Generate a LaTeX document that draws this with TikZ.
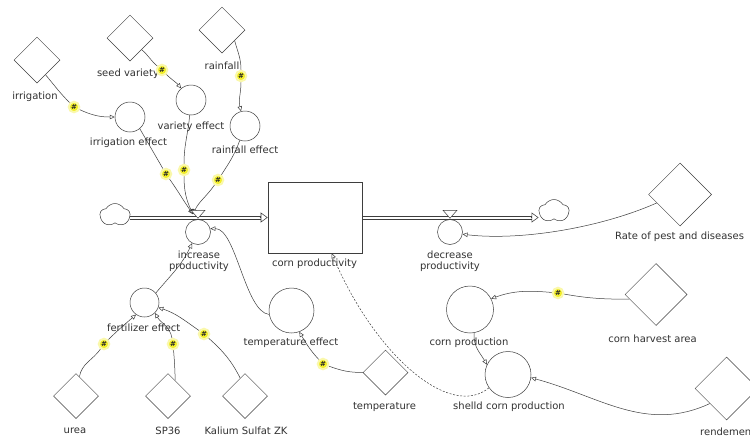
\documentclass[tikz,border=0pt]{standalone}
\usepackage{fontspec}
\setmainfont{DejaVu Sans}
\usetikzlibrary{shapes.geometric,shapes.symbols,arrows.meta,calc}
\definecolor{linec}{RGB}{62,62,62}
\definecolor{textc}{RGB}{50,50,50}
\definecolor{hashc}{RGB}{242,238,40}
\definecolor{glowc}{RGB}{250,248,170}
\pgfdeclarelayer{back}
\pgfdeclarelayer{bg}
\pgfsetlayers{back,bg,main}
\begin{document}
\begin{tikzpicture}[x=1pt,y=1pt,
  const/.style={diamond, draw=linec, line width=0.5pt, fill=white, inner sep=0pt, minimum width=#1, minimum height=#1},
  const/.default=45pt,
  auxc/.style={circle, draw=linec, line width=0.5pt, fill=white, inner sep=0pt, minimum size=#1},
  auxc/.default=30pt,
  stockbox/.style={rectangle, draw=linec, line width=0.6pt, fill=white, inner sep=0pt, minimum width=94pt, minimum height=71pt},
  cloudnode/.style={cloud, cloud puffs=5, cloud puff arc=120, aspect=1.3, draw=linec, line width=0.5pt, fill=white, inner sep=0pt, minimum width=30pt, minimum height=23pt},
  lbl/.style={font=\fontsize{10}{11}\selectfont, text=textc, inner sep=0pt, align=center},
  hashmk/.style={circle, fill=hashc, draw=glowc, line width=2pt, inner sep=0pt, minimum size=10.5pt, font=\fontsize{7}{7}\selectfont\bfseries, text=black!85},
  lnk/.style={draw=linec, line width=0.5pt},
  lnka/.style={lnk, -{Triangle[open, length=5pt, width=4.5pt]}},
  pipeline/.style={draw=linec, line width=0.6pt},
  pipetip/.style={draw=linec, line width=0.55pt, -{Triangle[open, length=7pt, width=10pt]}},
  valve/.style={draw=linec, line width=0.5pt}
]
\useasboundingbox (0,0) rectangle (750,-437);
\begin{pgfonlayer}{back}
\fill[white] (0,0) rectangle (750,-437);
\end{pgfonlayer}

% constants
\node[const=46pt] (irrig) at (37,-60) {};
\node[const=46pt] (seedv) at (130,-38) {};
\node[const=46pt] (rainf) at (222,-30) {};
\node[const] (urea) at (76,-396) {};
\node[const] (sp36) at (168,-396) {};
\node[const] (kal) at (245,-396) {};
\node[const] (temp) at (385.5,-372.5) {};
\node[const=63pt] (rate) at (680,-194.5) {};
\node[const=62pt] (harv) at (656,-294.5) {};
\node[const=63pt] (rend) at (726.5,-388.5) {};

% auxiliaries
\node[auxc] (irreff) at (130,-117) {};
\node[auxc] (vareff) at (191,-100) {};
\node[auxc] (rainfeff) at (245,-126) {};
\node[auxc=29pt] (fert) at (144.5,-302.5) {};
\node[auxc=45pt] (tempeff) at (291.5,-310.5) {};
\node[auxc=47pt] (cprod) at (470,-309.5) {};
\node[auxc=46pt] (shelld) at (508,-374.5) {};
\node[auxc=25pt] (incr) at (198,-232) {};
\node[auxc=25pt] (decr) at (450,-232) {};

% stock and clouds
\node[stockbox] (stock) at (315,-217.5) {};
\node[cloudnode] (cloudL) at (115,-215) {};
\node[cloudnode] (cloudR) at (554,-211) {};

% flow pipes: two parallel thin lines each
\coordinate (pL) at (cloudL.east |- stock.west);
\coordinate (pR) at (stock.east -| cloudR.west);
\draw[pipeline] ($(pL)+(0,1.6)$) -- ($(stock.west)+(-7,1.6)$);
\draw[pipeline] ($(pL)+(0,-1.6)$) -- ($(stock.west)+(-7,-1.6)$);
\draw[pipetip] ($(stock.west)+(-8,0)$) -- (stock.west);
\draw[pipeline] ($(stock.east)+(0,1.6)$) -- ($(pR)+(-7,1.6)$);
\draw[pipeline] ($(stock.east)+(0,-1.6)$) -- ($(pR)+(-7,-1.6)$);
\draw[pipetip] ($(pR)+(-8,0)$) -- (pR);

% valves
\draw[valve, fill=white] ($(incr.north)+(-7,9)$) -- ($(incr.north)+(7,9)$) -- ($(incr.north)+(0,1)$) -- cycle;
\draw[valve, fill=white] ($(decr.north)+(-7,9)$) -- ($(decr.north)+(7,9)$) -- ($(decr.north)+(0,1)$) -- cycle;
\coordinate (vin) at ($(incr.north)+(-5,5)$);

% labels
\node[lbl] (irrigT) at (35,-97) {irrigation};
\node[lbl] (seedvT) at (128,-74) {seed variety};
\node[lbl] (rainfT) at (222,-66) {rainfall};
\node[lbl] (irreffT) at (128.5,-142.7) {irrigation effect};
\node[lbl] (vareffT) at (191,-126.7) {variety effect};
\node[lbl] (rainfeffT) at (245,-150) {rainfall effect};
\node[lbl] (incrT) at (199,-261.5) {increase\\productivity};
\node[lbl] (stockT) at (314.5,-263.3) {corn productivity};
\node[lbl] (decrT) at (450,-261) {decrease\\productivity};
\node[lbl] (rateT) at (679.5,-236.7) {Rate of pest and diseases};
\node[lbl] (fertT) at (143.7,-327.7) {fertilizer effect};
\node[lbl] (ureaT) at (75,-431) {urea};
\node[lbl] (sp36T) at (168,-431) {SP36};
\node[lbl] (kalT) at (246,-431) {Kalium Sulfat ZK};
\node[lbl] (tempeffT) at (291,-343) {temperature effect};
\node[lbl] (tempT) at (384.5,-407) {temperature};
\node[lbl] (cprodT) at (469,-343) {corn production};
\node[lbl] (harvT) at (652.5,-339) {corn harvest area};
\node[lbl] (shelldT) at (509,-406.7) {shelld corn production};
\node[lbl, anchor=west] (rendT) at (700,-431.7) {rendemen};

% hash markers
\node[hashmk] (m1) at (74,-107) {\#};
\node[hashmk] (m2) at (162,-70) {\#};
\node[hashmk] (m3) at (241,-76) {\#};
\node[hashmk] (m4) at (166,-174) {\#};
\node[hashmk] (m5) at (184,-170) {\#};
\node[hashmk] (m6) at (218,-180) {\#};
\node[hashmk] (m9) at (104,-344) {\#};
\node[hashmk] (m10) at (173,-344) {\#};
\node[hashmk] (m11) at (204,-334) {\#};
\node[hashmk] (m12) at (323,-364) {\#};
\node[hashmk] (m14) at (558,-293) {\#};

\begin{pgfonlayer}{bg}
% links
\draw[lnk] (irrig.-60) to[out=-50,in=135] (m1);
\draw[lnka] (m1) to[out=-25,in=180] (irreff);
\draw[lnk] (seedv.-45) to[out=-40,in=140] (m2);
\draw[lnka] (m2) to[out=-45,in=130] (vareff);
\draw[lnk] (rainf.-40) to[out=-75,in=90] (m3);
\draw[lnka] (m3) to[out=-90,in=105] (rainfeff);
\draw[lnk] (irreff.-50) to[out=-60,in=120] (m4);
\draw[lnka] (m4) to[out=-55,in=125] (vin);
\draw[lnk] (vareff.-95) to[out=-95,in=90] (m5);
\draw[lnka] (m5) to[out=-90,in=115] (vin);
\draw[lnk] (rainfeff.-110) to[out=-110,in=57] (m6);
\draw[lnka] (m6) to[out=-125,in=65] (vin);
\draw[lnka] (fert.40) to[out=50,in=-115] (incr.-118);
\draw[lnka] (tempeff.190) .. controls (245,-312) and (236,-228) .. (incr.15);
\draw[lnk] (urea.80) to[out=80,in=-125] (m9);
\draw[lnka] (m9) to[out=45,in=-139] (fert.235);
\draw[lnk] (sp36.65) to[out=92,in=-85] (m10);
\draw[lnka] (m10) to[out=100,in=-60] (fert.-45);
\draw[lnk] (kal.105) to[out=117,in=-42] (m11);
\draw[lnka] (m11) to[out=145,in=-18] (fert.-20);
\draw[lnk] (temp.180) to[out=180,in=-20] (m12);
\draw[lnka] (m12) to[out=133,in=-59] (tempeff.-70);
\draw[lnka] (rate.200) .. controls (600,-228) and (520,-241) .. (decr.-10);
\draw[lnk] (harv.190) to[out=180,in=-10] (m14);
\draw[lnka] (m14) to[out=175,in=20] (cprod.27);
\draw[lnka] (cprod.-80) to[out=-95,in=120] (shelld.155);
\draw[lnka] (rend.222) to[out=205,in=-15] (shelld.-8);
\draw[lnka, dash pattern=on 2pt off 1.6pt] (shelld.215) .. controls (450,-420) and (375,-355) .. (stock.-65);
\end{pgfonlayer}
\end{tikzpicture}
\end{document}
